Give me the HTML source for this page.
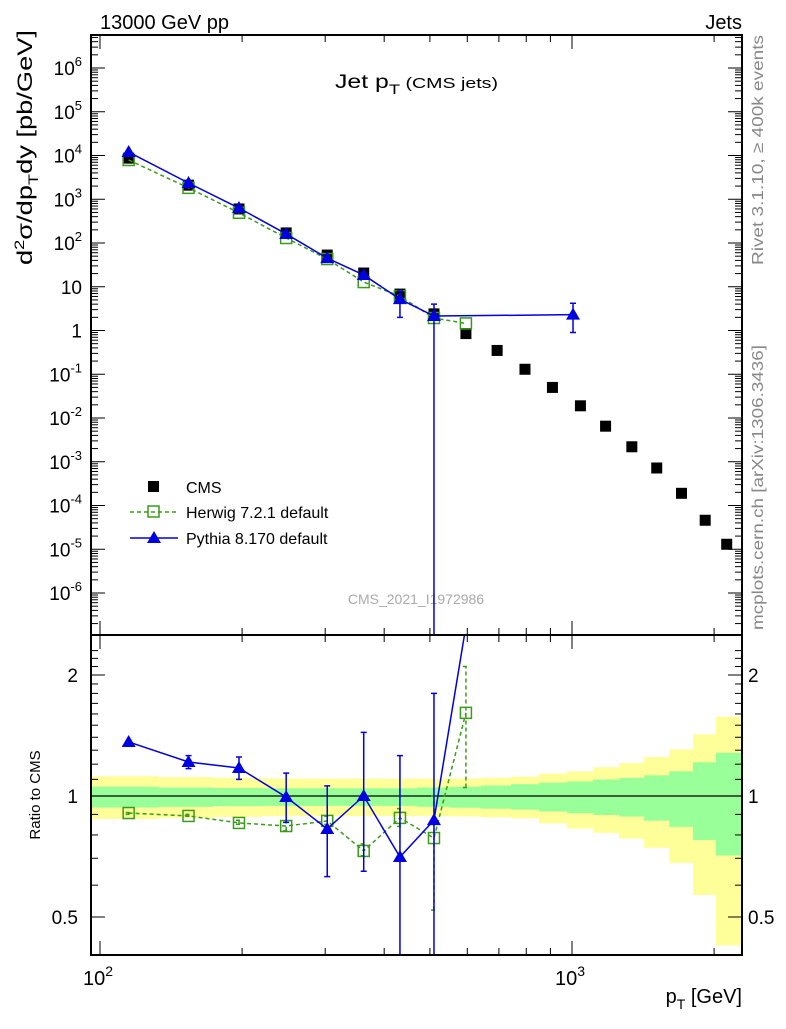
<!DOCTYPE html>
<html><head><meta charset="utf-8"><style>
body{margin:0;background:#fff}
svg{font-family:"Liberation Sans",sans-serif}
</style></head><body>
<svg id="c" width="786" height="1024" viewBox="0 0 786 1024" xmlns="http://www.w3.org/2000/svg">
<text x="100" y="29" font-size="20">13000 GeV pp</text>
<text x="742" y="29" font-size="20" text-anchor="end">Jets</text>
<text x="335" y="88" font-size="19" textLength="163" lengthAdjust="spacingAndGlyphs">Jet p<tspan font-size="14" dy="6">T</tspan><tspan font-size="15" dy="-6"> (CMS jets)</tspan></text>
<text transform="translate(763,265) rotate(-90)" font-size="16" fill="#888" textLength="230" lengthAdjust="spacingAndGlyphs">Rivet 3.1.10, ≥ 400k events</text>
<text transform="translate(763,630) rotate(-90)" font-size="16" fill="#888" textLength="285" lengthAdjust="spacingAndGlyphs">mcplots.cern.ch [arXiv:1306.3436]</text>
<text x="416" y="604" font-size="14" fill="#aaa" text-anchor="middle">CMS_2021_I1972986</text>
<text transform="translate(32,265) rotate(-90)" font-size="21" textLength="235" lengthAdjust="spacingAndGlyphs">d<tspan font-size="14" dy="-8">2</tspan><tspan dy="8">σ/dp</tspan><tspan font-size="14" dy="6">T</tspan><tspan dy="-6">dy [pb/GeV]</tspan></text>
<text transform="translate(40,795) rotate(-90)" font-size="15" text-anchor="middle">Ratio to CMS</text>
<text x="742" y="1003" font-size="20" text-anchor="end">p<tspan font-size="14" dy="6">T</tspan><tspan dy="-6"> [GeV]</tspan></text>
<g id="g"></g>
<g>
<rect x="148" y="481" width="11" height="11" fill="#000"/>
<text x="186" y="493" font-size="16">CMS</text>
<line x1="130" y1="512" x2="178" y2="512" stroke="#3a9a1a" stroke-width="1.5" stroke-dasharray="4,3"/>
<rect x="148" y="506" width="11" height="11" fill="none" stroke="#3a9a1a" stroke-width="1.5"/>
<text x="186" y="518" font-size="16">Herwig 7.2.1 default</text>
<line x1="130" y1="538" x2="178" y2="538" stroke="#0000e0" stroke-width="1.5"/>
<path d="M147,543 L154,531 L161,543 Z" fill="#0000e0"/>
<text x="186" y="544" font-size="16">Pythia 8.170 default</text>
</g>
</svg>
<script>
const cmsPt=[115,154,197,248,303,362,432,510,596,694,795,909,1042,1178,1339,1512,1706,1915,2127];
const cmsVal=[8700,2100,600,170,53,20.6,6.8,2.4,0.85,0.35,0.13,0.05,0.019,0.0065,0.0022,0.00072,0.00019,4.6e-5,1.3e-5];
const herPt=[115,154,197,248,303,362,432,510,596];
const herVal=[7900,1820,490,130,43,12.8,6.1,1.93,1.45];
const herRatio=[0.907,0.892,0.857,0.842,0.867,0.730,0.882,0.786,1.61];
const herRErrLo=[0.9,0.89,0.85,0.82,0.85,0.71,0.84,0.52,1.05];
const herRErrHi=[0.91,0.9,0.87,0.86,0.89,0.76,0.93,1.0,2.1];
const pyPt=[115,154,197,248,303,362,432,510,1005];
const pyVal=[12000,2350,630,161,45,18.6,5.2,2.14,2.3];
const pyErrLo=[12000,2350,630,161,45,18.6,2.0,1e-8,0.9];
const pyErrHi=[12000,2350,630,161,45,18.6,8.0,4.0,4.2];
const pyRatio=[1.363,1.215,1.174,0.994,0.828,1.0,0.705,0.871,110];
const pyRErrLo=[1.363,1.17,1.1,0.86,0.63,0.65,0.3,0.3,110];
const pyRErrHi=[1.363,1.26,1.25,1.14,1.06,1.44,1.26,1.8,110];
const binEdges=[95.7,132.7,173.4,220,273,330,396,470,552,641,743,851,975,1109,1259,1422,1607,1804,2018,2291];
const yelHi=[1.12,1.115,1.11,1.105,1.105,1.105,1.105,1.105,1.105,1.11,1.117,1.137,1.152,1.179,1.207,1.25,1.306,1.424,1.575];
const yelLo=[0.877,0.882,0.887,0.892,0.892,0.892,0.892,0.892,0.89,0.885,0.88,0.855,0.83,0.81,0.784,0.743,0.682,0.567,0.425];
const grnHi=[1.055,1.05,1.047,1.045,1.045,1.045,1.045,1.05,1.055,1.062,1.07,1.08,1.087,1.099,1.109,1.126,1.152,1.213,1.281];
const grnLo=[0.936,0.94,0.944,0.945,0.945,0.945,0.945,0.94,0.935,0.93,0.925,0.915,0.906,0.897,0.889,0.868,0.838,0.777,0.711];
const mainTicks=[6,5,4,3,2,1,0,-1,-2,-3,-4,-5,-6];
const ratioTicks=[2,1,0.5];

const NS='http://www.w3.org/2000/svg';
const L=91,R=742,T=35,M=635,B=955;
const X=p=>100+472*(Math.log10(p)-2);
const Y=v=>330.5-43.75*Math.log10(v);
const YR=r=>796-121*Math.log2(r);
const g=document.getElementById('g');
function el(t,a,par){const e=document.createElementNS(NS,t);for(const k in a)e.setAttribute(k,a[k]);(par||g).appendChild(e);return e;}
const defs=el('defs',{});
const c1=el('clipPath',{id:'cm'},defs);el('rect',{x:L,y:T,width:R-L,height:M-T},c1);
const c2=el('clipPath',{id:'cr'},defs);el('rect',{x:L,y:M,width:R-L,height:B-M},c2);
const gm=el('g',{'clip-path':'url(#cm)'});


const gr=el('g',{'clip-path':'url(#cr)'});


for(let i=0;i<yelHi.length;i++){
  const x0=X(binEdges[i]),x1=X(binEdges[i+1]);
  const r1=el('rect',{x:x0,y:YR(yelHi[i]),width:x1-x0+0.5,height:YR(yelLo[i])-YR(yelHi[i]),fill:'#ffff99'},gr);
  
  
}
for(let i=0;i<grnHi.length;i++){
  const x0=X(binEdges[i]),x1=X(binEdges[i+1]);
  const r2=el('rect',{x:x0,y:YR(grnHi[i]),width:x1-x0+0.5,height:YR(grnLo[i])-YR(grnHi[i]),fill:'#99ff99'},gr);
  
  
}
const one=el('line',{x1:L,x2:R,y1:YR(1),y2:YR(1),stroke:'#000','stroke-width':1.2},gr);


cmsPt.forEach((p,i)=>{
  const s=el('rect',{x:X(p)-5.5,y:Y(cmsVal[i])-5.5,width:11,height:11,fill:'#000'},gm);
  
  
});
function series(pts,vals,fy,col,dash,par,name,lo,hi,marker){
  const d=pts.map((p,i)=>(i?'L':'M')+X(p)+','+fy(vals[i])).join(' ');
  const ln=el('path',{d:d,fill:'none',stroke:col,'stroke-width':1.5,'stroke-dasharray':dash},par);
  
  
  pts.forEach((p,i)=>{
    const x=X(p);
    if(lo){const eb=el('path',{d:`M${x},${fy(lo[i])}L${x},${fy(hi[i])}M${x-3},${fy(lo[i])}h6M${x-3},${fy(hi[i])}h6`,stroke:col,'stroke-width':1.5,fill:'none','stroke-dasharray':dash},par);
      
      }
    const y=fy(vals[i]);
    let m;
    if(marker==='sq') m=el('rect',{x:x-5.5,y:y-5.5,width:11,height:11,fill:'none',stroke:col,'stroke-width':1.5},par);
    else m=el('path',{d:`M${x-7},${y+5}L${x},${y-7}L${x+7},${y+5}Z`,fill:col},par);
    
    
  });
}
series(herPt,herVal,Y,'#3a9a1a','4,3',gm,'herwig',null,null,'sq');
series(pyPt,pyVal,Y,'#0000e0','',gm,'pythia',pyErrLo,pyErrHi,'tri');
series(herPt,herRatio,YR,'#3a9a1a','4,3',gr,'herwig-ratio',herRErrLo,herRErrHi,'sq');
series(pyPt,pyRatio,YR,'#0000e0','',gr,'pythia-ratio',pyRErrLo,pyRErrHi,'tri');
[[T,M,'main-frame'],[M,B,'ratio-frame']].forEach(([a,b,n])=>{
  const f=el('rect',{x:L,y:a,width:R-L,height:b-a,fill:'none',stroke:'#000','stroke-width':2});
  
  
});
const xt=[];for(let d=100;d<=1000;d*=10)for(let k=1;k<10;k++)xt.push(d*k);
xt.forEach(p=>{const x=X(p);if(x<L||x>R)return;const big=(p===100||p===1000);const len=big?14:7;
  [[T,1],[M,-1],[M,1],[B,-1]].forEach(([y0,s])=>{const t=el('line',{x1:x,x2:x,y1:y0,y2:y0+s*len,stroke:'#000','stroke-width':1});
    });});
[[100,'2'],[1000,'3']].forEach(([p,e])=>{const t=el('text',{x:X(p)-2,y:985,'font-size':20,'text-anchor':'middle'});
  
  t.innerHTML='10<tspan font-size="14" dy="-9">'+e+'</tspan>';});
for(let e=-7;e<=6;e++)for(let k=1;k<10;k++){const y=Y(k*Math.pow(10,e));if(y<T||y>M)continue;const len=k===1?14:7;
  [[L,1],[R,-1]].forEach(([x0,s])=>{const t=el('line',{x1:x0,x2:x0+s*len,y1:y,y2:y,stroke:'#000','stroke-width':1});
    });}
mainTicks.forEach(e=>{const y=Y(Math.pow(10,e))+7;const t=el('text',{x:82,y:y,'font-size':19,'text-anchor':'end'});
  
  if(e===0)t.textContent='1';else if(e===1)t.textContent='10';else t.innerHTML='10<tspan font-size="13" dy="-9">'+e+'</tspan><tspan dy="9"> </tspan>';});
for(let v=0.4;v<=2.4;v+=0.1){const y=YR(v);if(y<M||y>B)continue;const maj=ratioTicks.some(r=>Math.abs(r-v)<1e-6);const len=maj?14:7;
  [[L,1],[R,-1]].forEach(([x0,s])=>{const t=el('line',{x1:x0,x2:x0+s*len,y1:y,y2:y,stroke:'#000','stroke-width':1});
    });}
ratioTicks.forEach(v=>{const y=YR(v)+7;
  const a=el('text',{x:78,y:y,'font-size':19,'text-anchor':'end'});a.textContent=String(v);
  
  const b=el('text',{x:748,y:y,'font-size':19});b.textContent=String(v);
  });
</script>
</body></html>
